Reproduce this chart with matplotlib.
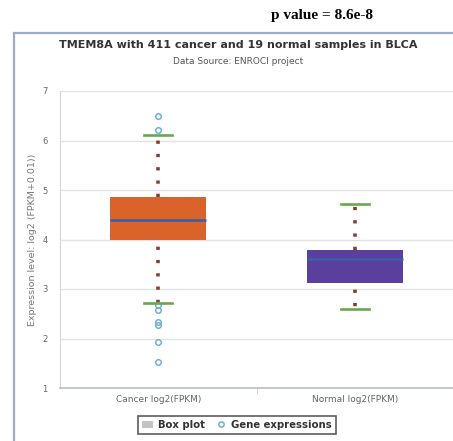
import matplotlib.pyplot as plt
from matplotlib.patches import Rectangle, Patch
from matplotlib.lines import Line2D

# box statistics (log2(FPKM+0.01))
groups = ["Cancer log2(FPKM)", "Normal log2(FPKM)"]
q1 = [3.99, 3.13]
median = [4.39, 3.60]
q3 = [4.85, 3.78]
whisker_low = [2.72, 2.59]
whisker_high = [6.11, 4.71]
outliers = [
    [6.50, 6.21, 2.67, 2.57, 2.33, 2.27, 1.93, 1.53],
    [],
]
box_colors = ["#d9632a", "#5a3f9e"]

fig = plt.figure(figsize=(4.53, 4.41), dpi=100)

# outer panel frame (only left and top edges are inside the picture)
frame = Rectangle((14 / 453, -0.1), 1.2, (441 - 33) / 441 + 0.1,
                  transform=fig.transFigure, facecolor="white",
                  edgecolor="#9badcb", linewidth=1.6, zorder=-5)
fig.patches.append(frame)

ax = fig.add_axes([60 / 453, 53 / 441, 393 / 453, 297 / 441])
ax.set_zorder(1)
ax.set_facecolor("white")

stats = []
for i in range(len(groups)):
    stats.append(dict(med=median[i], q1=q1[i], q3=q3[i],
                      whislo=whisker_low[i], whishi=whisker_high[i],
                      fliers=outliers[i]))

bp = ax.bxp(stats, positions=[0, 1], widths=0.49, capwidths=0.14,
            patch_artist=True,
            boxprops=dict(linewidth=0),
            medianprops=dict(color="#3a5fa3", linewidth=1.9),
            whiskerprops=dict(color="#8b3b2a", linewidth=2.6,
                              dash_capstyle="butt"),
            capprops=dict(color="#6aa84f", linewidth=1.9),
            flierprops=dict(marker="o", markersize=4, markerfacecolor="none",
                            markeredgecolor="#6fb2d2", markeredgewidth=1.1))

for patch, c in zip(bp["boxes"], box_colors):
    patch.set_facecolor(c)
for k, w in enumerate(bp["whiskers"]):
    if k % 2 == 0:
        w.set_linestyle((1.84, (0.9, 2.78)))
    else:
        w.set_linestyle((0, (0.9, 2.78)))
for cap in bp["caps"]:
    cap.set_zorder(4)

ax.set_xlim(-0.5, 1.5)
ax.set_ylim(1, 7)
ax.set_yticks(range(1, 8))
ax.grid(axis="y", color="#e2e2e2", linewidth=1)
ax.set_axisbelow(True)
ax.set_xticks([0, 1])
ax.set_xticklabels(groups)
ax.set_xticks([0.5], minor=True)
ax.tick_params(axis="y", length=0, pad=9, labelsize=6, labelcolor="#666666")
ax.tick_params(axis="x", which="major", length=0, pad=5, labelsize=6.5,
               labelcolor="#666666")
ax.tick_params(axis="x", which="minor", length=4, color="#cccccc")
for side in ["top", "right"]:
    ax.spines[side].set_visible(False)
ax.spines["left"].set_color("#d5d5d5")
ax.spines["bottom"].set_color("#b8bcc8")
ax.spines["bottom"].set_linewidth(1.2)
ax.set_ylabel("Expression level: log2 (FPKM+0.01))", fontsize=6.8,
              color="#777777", labelpad=4)

fig.text(322 / 453, 1 - 16 / 441, "p value = 8.6e-8", ha="center", va="center",
         fontsize=11, fontweight="bold", family="Liberation Serif", color="black")
fig.text(238 / 453, 1 - 45 / 441,
         "TMEM8A with 411 cancer and 19 normal samples in BLCA",
         ha="center", va="center", fontsize=8, fontweight="bold", color="#333333")
fig.text(238 / 453, 1 - 62 / 441, "Data Source: ENROCI project", ha="center",
         va="center", fontsize=6.5, color="#555555")

handles = [Patch(facecolor="#c4c4c4", edgecolor="none"),
           Line2D([], [], linestyle="none", marker="o", markersize=3.8,
                  markerfacecolor="none", markeredgecolor="#6fb2d2",
                  markeredgewidth=1.1)]
leg = fig.legend(handles, ["Box plot", "Gene expressions"], loc="center",
                 bbox_to_anchor=(237 / 453, 16 / 441), ncol=2, fancybox=False,
                 frameon=True, prop=dict(size=7.3, weight="bold"),
                 handlelength=1.1, handletextpad=0.5, columnspacing=1.0,
                 borderpad=0.35)
leg.get_frame().set_edgecolor("#333333")
leg.get_frame().set_linewidth(1.2)
for t in leg.get_texts():
    t.set_color("#333333")

fig.savefig("out.png", dpi=100)
